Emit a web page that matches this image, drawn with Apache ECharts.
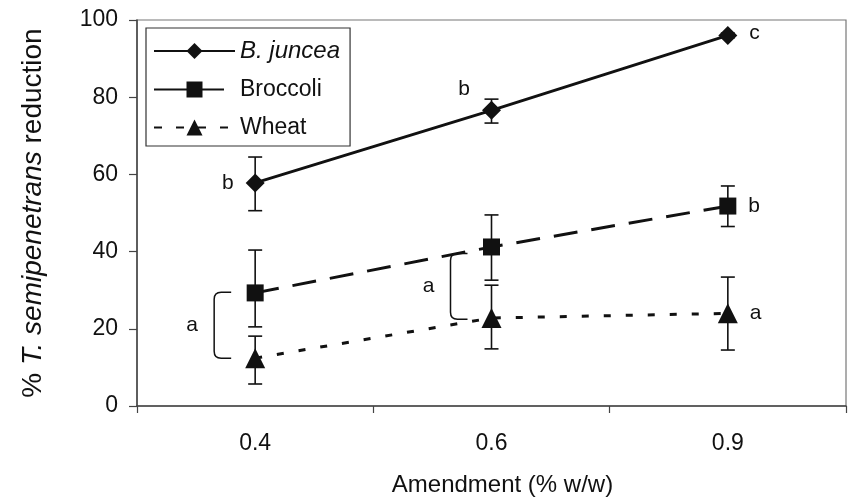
<!DOCTYPE html>
<html>
<head>
<meta charset="utf-8">
<script src="https://cdn.jsdelivr.net/npm/echarts@6/dist/echarts.min.js"></script>
<style>
  html, body { margin: 0; padding: 0; background: #fff; }
  #chart { width: 848px; height: 497px; }
</style>
</head>
<body>
<div id="chart"></div>
<script>
"use strict";

var categories = ['0.4', '0.6', '0.9'];
var yTicks = [0, 20, 40, 60, 80, 100];

// means
var junceaVals = [57.8, 76.6, 96];
var broccoliVals = [29.3, 41.2, 51.8];
var wheatVals = [12.4, 22.8, 24];

// error bar ends (low, high)
var junceaLow = [50.6, 73.3, 95.4];
var junceaHigh = [64.5, 79.5, 96.6];
var broccoliLow = [20.5, 32.6, 46.5];
var broccoliHigh = [40.4, 49.5, 57];
var wheatLow = [5.7, 14.8, 14.5];
var wheatHigh = [18.1, 31.3, 33.4];

// significance letters
var junceaLetters = ['b', 'b', 'c'];
var broccoliLetters = ['', '', 'b'];
var wheatLetters = ['', '', 'a'];

// brackets grouping broccoli & wheat: [category index, low, high, letter]
var brackets = [[0, 12.4, 29.5, 'a'], [1, 22.5, 39.5, 'a']];

var ink = '#111';
var font = 'Liberation Sans, Arial, Helvetica, sans-serif';
var letterSize = 21;

var letterLabel = function(letter, pos, offset) {
  if (!letter) return { show: false };
  return {
    show: true, position: pos, distance: 12, offset: offset || [0, 0],
    formatter: letter, color: ink, fontSize: letterSize, fontFamily: font
  };
};

var withLetters = function(vals, letters, positions, offsets) {
  return vals.map(function(v, i) {
    return { value: v, label: letterLabel(letters[i], positions[i], offsets[i]) };
  });
};

var errorData = function(low, high) {
  return low.map(function(l, i) { return [i, l, high[i]]; });
};

var renderError = function(params, api) {
  var x = api.value(0);
  var lo = api.coord([x, api.value(1)]);
  var hi = api.coord([x, api.value(2)]);
  var w = 7;
  var st = { stroke: ink, lineWidth: 1.6 };
  return {
    type: 'group',
    children: [
      { type: 'line', shape: { x1: lo[0], y1: lo[1], x2: hi[0], y2: hi[1] }, style: st },
      { type: 'line', shape: { x1: lo[0] - w, y1: lo[1], x2: lo[0] + w, y2: lo[1] }, style: st },
      { type: 'line', shape: { x1: hi[0] - w, y1: hi[1], x2: hi[0] + w, y2: hi[1] }, style: st }
    ]
  };
};

var renderBracket = function(params, api) {
  var x = api.value(0);
  var lo = api.coord([x, api.value(1)]);
  var hi = api.coord([x, api.value(2)]);
  var xv = lo[0] - 41, xe = lo[0] - 24, r = 7;
  var path = 'M' + xe + ',' + hi[1] +
    ' L' + (xv + r) + ',' + hi[1] +
    ' Q' + xv + ',' + hi[1] + ' ' + xv + ',' + (hi[1] + r) +
    ' L' + xv + ',' + (lo[1] - r) +
    ' Q' + xv + ',' + lo[1] + ' ' + (xv + r) + ',' + lo[1] +
    ' L' + xe + ',' + lo[1];
  return {
    type: 'group',
    children: [
      { type: 'path', shape: { pathData: path }, style: { stroke: ink, lineWidth: 1.5, fill: null } },
      { type: 'text', style: {
          text: brackets[params.dataIndex][3], x: xv - 22, y: (lo[1] + hi[1]) / 2,
          align: 'center', verticalAlign: 'middle', fill: ink, fontSize: letterSize, fontFamily: font } }
    ]
  };
};

var chart = echarts.init(document.getElementById('chart'), null, { renderer: 'canvas' });

var option = {
  animation: false,
  backgroundColor: '#fff',
  textStyle: { fontFamily: font },
  grid: {
    left: 137, top: 20, right: 2, bottom: 91,
    outerBoundsMode: 'none', containLabel: false,
    show: true, borderColor: '#777', borderWidth: 1.2
  },
  legend: {
    left: 146, top: 28, orient: 'vertical',
    data: [
      { name: 'B. juncea' },
      { name: 'Broccoli', lineStyle: { type: [70, 20] } },
      { name: 'Wheat', lineStyle: { type: [8, 14] } }
    ],
    itemWidth: 81, itemHeight: 20, itemGap: 15,
    padding: [11, 10, 7, 7],
    borderColor: '#333', borderWidth: 1.2,
    textStyle: {
      fontSize: 23, color: ink, fontFamily: font,
      rich: { i: { fontSize: 24, fontStyle: 'italic', color: ink, fontFamily: font } }
    },
    formatter: function(name) {
      return name === 'B. juncea' ? '{i|' + name + '}' : name;
    },
    selectedMode: false
  },
  xAxis: {
    type: 'category',
    data: categories,
    boundaryGap: true,
    name: 'Amendment (% w/w)',
    nameLocation: 'middle',
    nameGap: 67,
    nameTextStyle: { fontSize: 24, color: ink, fontFamily: font, padding: [0, 0, 0, 22] },
    axisLine: { lineStyle: { color: '#444', width: 1.5 } },
    axisTick: { show: true, length: 7, inside: false, lineStyle: { color: '#444', width: 1.2 } },
    axisLabel: { fontSize: 23, color: ink, margin: 26, fontFamily: font },
    splitLine: { show: false }
  },
  yAxis: {
    type: 'value',
    min: yTicks[0], max: yTicks[yTicks.length - 1], interval: 20,
    name: '{n|% }{i|T. semipenetrans}{n| reduction}',
    nameLocation: 'middle',
    nameGap: 90,
    nameTextStyle: {
      fontSize: 28, color: ink, fontFamily: font,
      rich: {
        n: { fontSize: 28, color: ink, fontFamily: font },
        i: { fontSize: 28, color: ink, fontFamily: font, fontStyle: 'italic' }
      }
    },
    axisLine: { show: true, lineStyle: { color: '#444', width: 1.5 } },
    axisTick: { show: true, length: 8, inside: false, lineStyle: { color: '#444', width: 1.2 } },
    axisLabel: { fontSize: 23, color: ink, margin: 19, fontFamily: font },
    splitLine: { show: false }
  },
  series: [
    {
      name: 'B. juncea', type: 'line', symbol: 'diamond', symbolSize: 19,
      itemStyle: { color: ink },
      lineStyle: { color: ink, width: 3, type: 'solid' },
      data: withLetters(junceaVals, junceaLetters, ['left', 'left', 'right'], [[0, 0], [0, -21], [0, -2]]),
      z: 5
    },
    {
      name: 'Broccoli', type: 'line', symbol: 'rect', symbolSize: 17,
      itemStyle: { color: ink },
      lineStyle: { color: ink, width: 3, type: [24, 14] },
      data: withLetters(broccoliVals, broccoliLetters, ['right', 'right', 'right'], [[0, 0], [0, 0], [0, 0]]),
      z: 5
    },
    {
      name: 'Wheat', type: 'line', symbol: 'triangle', symbolSize: 20,
      itemStyle: { color: ink },
      lineStyle: { color: ink, width: 3, type: [7, 15] },
      data: withLetters(wheatVals, wheatLetters, ['right', 'right', 'right'], [[0, 0], [0, 0], [0, 0]]),
      z: 5
    },
    { type: 'custom', renderItem: renderError, data: errorData(junceaLow, junceaHigh), z: 4 },
    { type: 'custom', renderItem: renderError, data: errorData(broccoliLow, broccoliHigh), z: 4 },
    { type: 'custom', renderItem: renderError, data: errorData(wheatLow, wheatHigh), z: 4 },
    {
      type: 'custom', renderItem: renderBracket, z: 4,
      data: brackets.map(function(b) { return [b[0], b[1], b[2]]; })
    }
  ]
};

chart.setOption(option);
</script>
</body>
</html>
